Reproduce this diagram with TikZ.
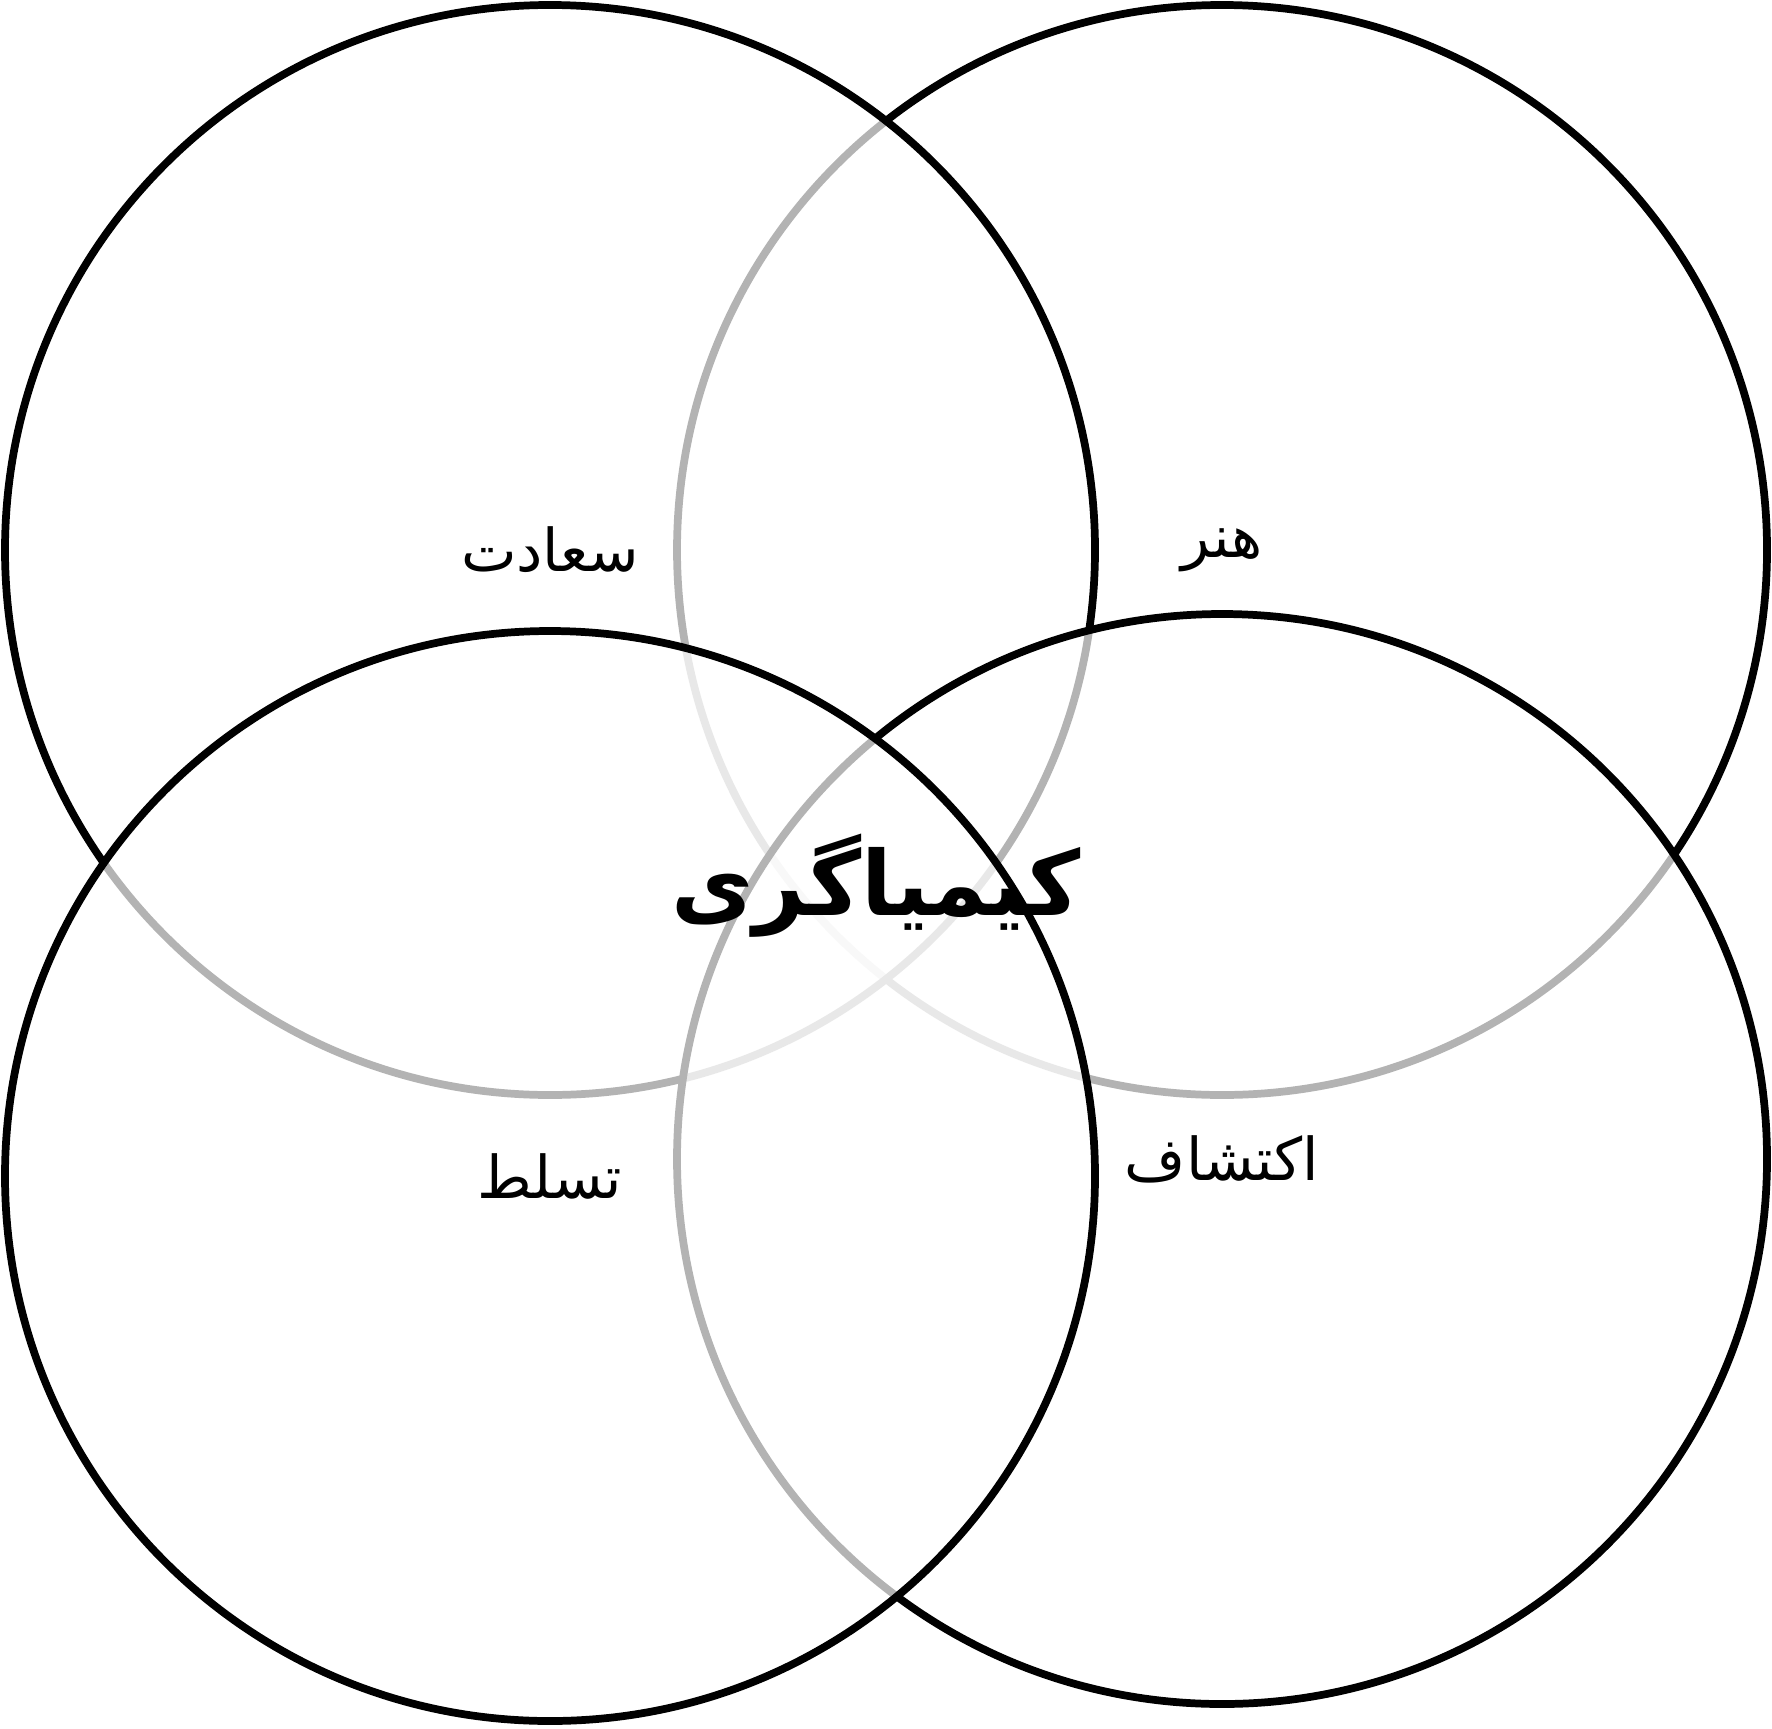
\documentclass[tikz,border=0pt]{standalone}
\usepackage{fontspec}
\newfontfamily\farsi[Script=Arabic]{DejaVu Sans}
\TeXXeTstate=1
\tikzset{
  venn/.style={circle, draw=black, line width=2.2pt, fill=white, fill opacity=0.7,
    text opacity=1, minimum size=109mm, inner sep=0pt,
    font=\farsi\fontsize{16.8}{20}\selectfont},
  core/.style={font=\farsi\bfseries\fontsize{25.5}{30}\selectfont}
}
\begin{document}
\begin{tikzpicture}[x=0.1mm,y=-0.1mm]
\useasboundingbox (0,0) rectangle (1772,1728);
% circles, back to front
\node[venn] (honar) at (1222,550) {\beginR هنر\endR};
\node[venn] (saadat) at (550,550) {\beginR سعادت\endR};
\node[venn] (ekteshaf) at (1222,1159) {\beginR اکتشاف\endR};
\node[venn] (tasallot) at (550,1176) {\beginR تسلط\endR};
% centre word
\node[core] (kimia) at (876,886) {\beginR کیمیاگری\endR};
\end{tikzpicture}
\end{document}
